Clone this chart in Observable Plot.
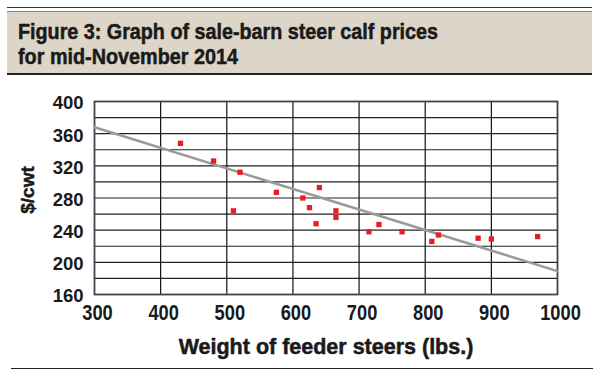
<!DOCTYPE html>
<html>
<head>
<meta charset="utf-8">
<script src="https://cdn.jsdelivr.net/npm/d3@7"></script>
<script src="https://cdn.jsdelivr.net/npm/@observablehq/plot@0.6"></script>
<style>
  html, body { margin: 0; padding: 0; background: #fff; }
  #wrap { position: relative; width: 600px; height: 384px; overflow: hidden; background: #fff; }
  #titlebox { position: absolute; left: 7px; top: 7px; width: 585px; border-top: 1.5px solid #333; }
  #titleinner { margin-top: 3px; height: 61px; background: #ddd6c8; border-top: 1px solid #8a857c; border-bottom: 2px solid #222; position: relative; }
  .tl { position: absolute; left: 11px; font-family: "Liberation Sans", Arial, sans-serif; font-weight: bold; font-size: 21.5px; color: #1a1a1a; -webkit-text-stroke: 0.5px #1a1a1a; white-space: nowrap; transform-origin: 0 0; line-height: 1; }
  #chart { position: absolute; left: 0; top: 76px; }
  #rule { position: absolute; left: 11px; top: 368px; width: 582px; height: 0; border-top: 1.5px solid #222; }
</style>
</head>
<body>
<div id="wrap">
  <div id="titlebox"><div id="titleinner">
    <span class="tl" id="t1" data-w="420" style="top:10px">Figure 3: Graph of sale-barn steer calf prices</span>
    <span class="tl" id="t2" data-w="220" style="top:35px">for mid-November 2014</span>
  </div></div>
  <div id="chart"></div>
  <div id="rule"></div>
</div>
<script>
// Data
const weights = [430, 480, 520, 510, 575, 615, 640, 625, 635, 665, 665, 715, 730, 765, 810, 820, 880, 900, 970];
const prices  = [348, 326, 312, 264, 287, 280, 293, 268, 248, 264, 256, 238, 247, 238, 226, 234, 230, 229, 232];
const trendX = [300, 1000];
const trendY = [368, 189];
const xTicks = [300, 400, 500, 600, 700, 800, 900, 1000];
const yTicks = [160, 200, 240, 280, 320, 360, 400];
const yGrid = [180, 200, 220, 240, 260, 280, 300, 320, 340, 360, 380];
const xGrid = [400, 500, 600, 700, 800, 900];
const yLabel = "$/cwt";
const xLabel = "Weight of feeder steers (lbs.)";

const points = weights.map((w, i) => ({w, p: prices[i]}));
const trend = trendX.map((x, i) => ({x, y: trendY[i]}));

const font = '"Liberation Sans", Arial, sans-serif';
const ink = "#1a1a1a";

const chart = Plot.plot({
  width: 600,
  height: 308,
  marginLeft: 94,
  marginRight: 43,
  marginTop: 25,
  marginBottom: 90,
  style: {fontFamily: font, fontWeight: "bold", color: ink, background: "transparent", overflow: "visible"},
  x: {domain: [300, 1000], label: null},
  y: {domain: [160, 400], label: null},
  marks: [
    Plot.ruleY(yGrid, {stroke: "#222", strokeWidth: 1.2}),
    Plot.ruleX(xGrid, {stroke: "#111", strokeWidth: 1.2}),
    Plot.frame({stroke: "#444", strokeWidth: 1.8}),
    Plot.line(trend, {x: "x", y: "y", stroke: "#9a9a9a", strokeWidth: 2.5}),
    Plot.dot(points, {x: "w", y: "p", symbol: "square", r: 3, fill: "#ec1c24", stroke: "none"}),
    Plot.axisX(xTicks, {tickSize: 0, tickPadding: 10, fontSize: 21.5, fontWeight: "bold", fill: ink, stroke: ink, strokeWidth: 0.5, dx: 3, label: null, tickFormat: d => String(d)}),
    Plot.axisY(yTicks, {tickSize: 0, tickPadding: 11, fontSize: 18.5, fontWeight: "bold", fill: ink, stroke: ink, strokeWidth: 0.5, dy: 2, label: null, tickFormat: d => String(d)}),
    Plot.text([yLabel], {frameAnchor: "left", dx: -67, dy: -8, rotate: -90, fontSize: 19, fontWeight: "bold", fill: ink, stroke: ink, strokeWidth: 0.5, textAnchor: "middle", lineAnchor: "middle", ariaLabel: "ylabel"}),
    Plot.text([xLabel], {frameAnchor: "bottom", dy: 53, fontSize: 21.5, fontWeight: "bold", fill: ink, stroke: ink, strokeWidth: 0.5, textAnchor: "middle", lineAnchor: "middle", ariaLabel: "xlabel"})
  ]
});
document.getElementById("chart").appendChild(chart);

// condense text to match the narrow typeface of the reference
function squeeze(sel, target) {
  chart.querySelectorAll(sel).forEach(t => {
    const len = t.getComputedTextLength();
    const w = typeof target === "function" ? target(len) : target;
    t.setAttribute("textLength", w);
    t.setAttribute("lengthAdjust", "spacingAndGlyphs");
  });
}
squeeze('g[aria-label="x-axis tick label"] text', len => len * 0.85);
squeeze('g[aria-label="xlabel"] text', 264);
squeeze('g[aria-label="ylabel"] text', 49);

// squeeze the title lines to the condensed width seen in the reference
document.querySelectorAll(".tl").forEach(el => {
  const w = +el.dataset.w;
  const actual = el.getBoundingClientRect().width;
  if (actual > 0) el.style.transform = `scaleX(${w / actual})`;
});
</script>
</body>
</html>
